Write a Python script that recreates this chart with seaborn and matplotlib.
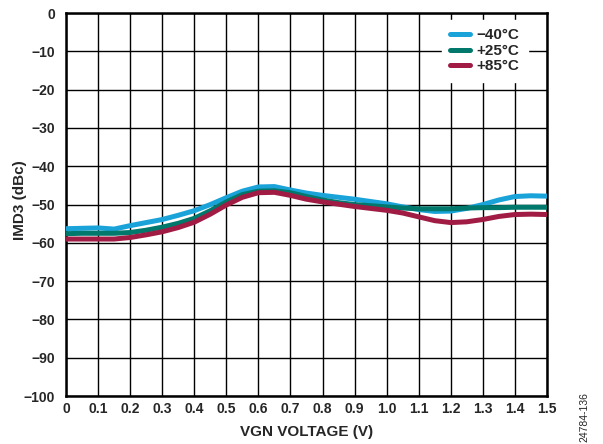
import numpy as np
import pandas as pd
import matplotlib
matplotlib.use("Agg")
import matplotlib.pyplot as plt
import seaborn as sns

# VGN control voltage (V)
vgn = [0.00, 0.05, 0.10, 0.15, 0.20, 0.25, 0.30, 0.35, 0.40, 0.45, 0.50,
       0.55, 0.60, 0.65, 0.70, 0.75, 0.80, 0.85, 0.90, 0.95, 1.00, 1.05,
       1.10, 1.15, 1.20, 1.25, 1.30, 1.35, 1.40, 1.45, 1.50]

# IMD3 (dBc) per temperature
imd3_m40 = [-56.3, -56.2, -56.1, -56.4, -55.5, -54.7, -53.9, -52.8, -51.6, -50.0, -48.2,
            -46.5, -45.4, -45.3, -46.2, -47.0, -47.6, -48.1, -48.6, -49.2, -49.8, -50.6,
            -51.3, -51.8, -51.7, -51.0, -50.0, -48.8, -47.9, -47.7, -47.8]
imd3_p25 = [-57.6, -57.5, -57.5, -57.5, -57.3, -56.7, -55.9, -54.9, -53.6, -51.6, -49.3,
            -47.4, -46.5, -46.4, -46.9, -47.9, -48.8, -49.5, -50.0, -50.3, -50.6, -50.9,
            -51.1, -51.1, -51.1, -50.9, -50.8, -50.8, -50.7, -50.7, -50.7]
imd3_p85 = [-59.0, -59.0, -59.0, -59.0, -58.6, -57.9, -57.1, -56.0, -54.6, -52.5, -50.1,
            -48.1, -46.9, -46.8, -47.6, -48.6, -49.3, -49.9, -50.5, -51.0, -51.5, -52.2,
            -53.2, -54.2, -54.7, -54.5, -53.9, -53.1, -52.6, -52.5, -52.6]

temps = ["\u221240\u00b0C", "+25\u00b0C", "+85\u00b0C"]
colors = ["#1aa3d9", "#00786c", "#a01c45"]

xticks = [0, 0.1, 0.2, 0.3, 0.4, 0.5, 0.6, 0.7, 0.8, 0.9, 1.0, 1.1, 1.2, 1.3, 1.4, 1.5]
xticklabels = ["0", "0.1", "0.2", "0.3", "0.4", "0.5", "0.6", "0.7", "0.8", "0.9",
               "1.0", "1.1", "1.2", "1.3", "1.4", "1.5"]
yticks = list(range(-100, 1, 10))
yticklabels = ["\u2212100", "\u221290", "\u221280", "\u221270", "\u221260", "\u221250",
               "\u221240", "\u221230", "\u221220", "\u221210", "0"]

df = pd.concat([
    pd.DataFrame({"VGN": vgn, "IMD3": vals, "Temp": t})
    for vals, t in zip([imd3_m40, imd3_p25, imd3_p85], temps)
])

sns.set_style("white")
plt.rcParams["font.family"] = ["Liberation Sans", "DejaVu Sans"]
plt.rcParams["font.weight"] = "bold"

fig = plt.figure(figsize=(6.03, 4.44), dpi=100)
ax = fig.add_axes([0.1095, 0.108, 0.7975, 0.8625])

sns.lineplot(data=df, x="VGN", y="IMD3", hue="Temp", hue_order=temps,
             palette=colors, linewidth=3.6, ax=ax, legend=True, zorder=3)

ax.set_xlim(0, 1.5)
ax.set_ylim(-100, 0)
ax.set_xticks(xticks)
ax.set_xticklabels(xticklabels, fontsize=10, fontweight="bold")
ax.set_yticks(yticks)
ax.set_yticklabels(yticklabels, fontsize=10, fontweight="bold")
ax.tick_params(axis="x", length=0, pad=4)
ax.tick_params(axis="y", length=0, pad=8)
ax.grid(True, color="black", linewidth=1.0)
ax.set_axisbelow(True)
for s in ax.spines.values():
    s.set_color("black")
    s.set_linewidth(1.8)

ax.set_xlabel("VGN VOLTAGE (V)", fontsize=11, fontweight="bold", labelpad=7)
ax.set_ylabel("IMD3 (dBc)", fontsize=11, fontweight="bold", labelpad=-2.5)
ax.yaxis.label.set_y(0.512)

leg = ax.legend(loc="upper right", bbox_to_anchor=(0.9605, 0.982),
                frameon=True, fancybox=False, framealpha=1,
                edgecolor="white", handlelength=1.3, handletextpad=0.45,
                borderaxespad=0.0, borderpad=0.55, labelspacing=0.1,
                prop={"weight": "bold", "size": 11})
for line in leg.get_lines():
    line.set_linewidth(3.6)
leg.set_zorder(5)

fig.text(0.970, 0.061, "24784-136", rotation=90, fontsize=7.5, fontweight="normal",
         ha="center", va="center", transform=fig.transFigure)

fig.savefig("out.png", dpi=100)
